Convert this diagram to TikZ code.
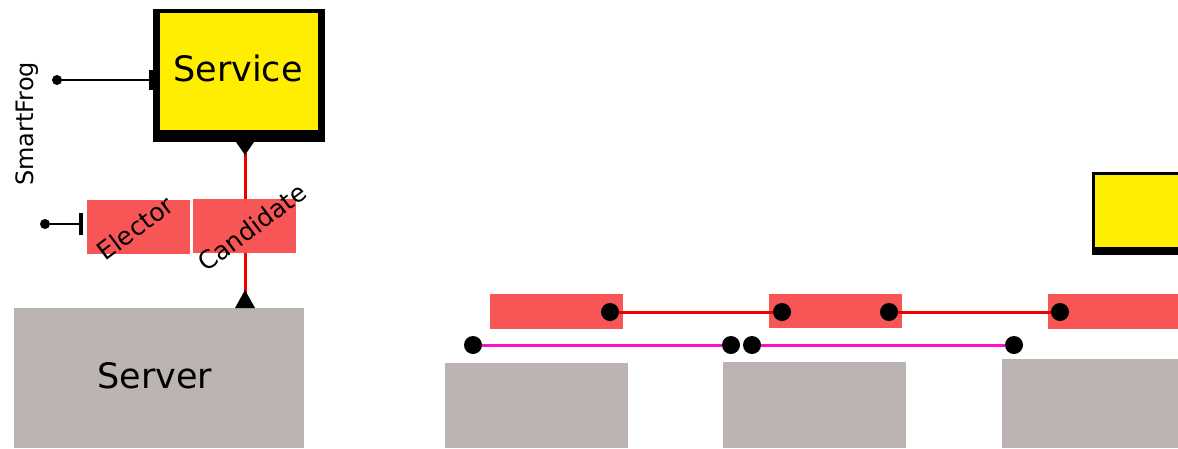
\documentclass[tikz,border=0pt]{standalone}
\usepackage{fontspec}
\setmainfont{DejaVu Sans}
\usetikzlibrary{arrows.meta}
\definecolor{svcyellow}{HTML}{FFEE00}
\definecolor{compred}{HTML}{F85656}
\definecolor{srvgray}{HTML}{BCB4B3}
\definecolor{linkred}{HTML}{EE0000}
\definecolor{linkmag}{HTML}{FF10C8}
\tikzset{
  shadowbox/.style={fill=black, inner sep=0, minimum width=#1},
  yellowbox/.style={fill=svcyellow, inner sep=0},
  redbox/.style={fill=compred, inner sep=0},
  graybox/.style={fill=srvgray, inner sep=0},
  bigdot/.style={circle, fill=black, inner sep=0, minimum size=18pt},
  smalldot/.style={circle, fill=black, inner sep=0, minimum size=10pt},
  redlink/.style={draw=linkred, line width=3pt},
  maglink/.style={draw=linkmag, line width=3pt},
  blacklink/.style={draw=black, line width=2pt},
  rottext/.style={font=\fontsize{25}{27}\selectfont, rotate=37, inner sep=0},
}
\begin{document}
\begin{tikzpicture}[x=1pt,y=-1pt]
\useasboundingbox (0,0) rectangle (1178,448);
\clip (0,0) rectangle (1178,448);
% ---- left part ----
\node[shadowbox=172pt, minimum height=133pt] (svcouter) at (239,75.5) {};
\node[yellowbox, minimum width=158pt, minimum height=117pt] (service) at (239,71.5) {};
\node[font=\fontsize{35}{40}\selectfont] (servicetxt) at (238,68) {Service};
\node[font=\fontsize{24}{26}\selectfont, rotate=90, inner sep=0] (smartfrog) at (27,124) {SmartFrog};
\node[smalldot] (sfdot) at (57,80) {};
\draw[blacklink, -{Bar[width=20pt,line width=4pt]}] (sfdot) -- (sfdot -| svcouter.west);

\node[redbox, minimum width=103pt, minimum height=54pt] (elector) at (138.5,227) {};
\node[smalldot] (edot) at (45,224) {};
\coordinate (etee) at (83,224);
\draw[blacklink, -{Bar[width=22pt,line width=4pt]}] (edot) -- (etee);

\node[redbox, minimum width=103pt, minimum height=54pt] (candidate) at (244.5,226) {};
\node[graybox, minimum width=290pt, minimum height=140pt] (server) at (159,378) {};
\node[font=\fontsize{35}{40}\selectfont] (servertxt) at (155,376) {Server};

\coordinate (jt) at (245,142);
\coordinate (jb) at (245,308);
\draw[redlink] (jt) -- (jt |- candidate.north);
\draw[redlink] (jb |- candidate.south) -- (jb);
\fill (jt) ++(-9,0) -- ++(18,0) -- ++(-9,13) -- cycle;
\fill (jb) ++(-10,0) -- ++(20,0) -- ++(-10,-18) -- cycle;
\node[rottext] (electortxt) at (135,228) {Elector};
\node[rottext] (candtxt) at (252,227) {Candidate};

% ---- right part ----
\node[shadowbox=100pt, minimum height=83pt] (svc2outer) at (1142,213.5) {};
\node[yellowbox, minimum width=100pt, minimum height=72pt] (service2) at (1145,211) {};

\node[redbox, minimum width=133pt, minimum height=35pt] (r1) at (556.5,311.5) {};
\node[redbox, minimum width=133pt, minimum height=34pt] (r2) at (835.5,311) {};
\node[redbox, minimum width=140pt, minimum height=35pt] (r3) at (1118,311.5) {};

\node[graybox, minimum width=183pt, minimum height=85pt] (g1) at (536.5,405.5) {};
\node[graybox, minimum width=183pt, minimum height=86pt] (g2) at (814.5,405) {};
\node[graybox, minimum width=200pt, minimum height=89pt] (g3) at (1102,403.5) {};

\node[bigdot] (r1d) at (610,312) {};
\node[bigdot] (r2a) at (782,312) {};
\node[bigdot] (r2b) at (889,312) {};
\node[bigdot] (r3d) at (1060,312) {};
\draw[redlink] (r1d) -- (r2a);
\draw[redlink] (r2b) -- (r3d);

\node[bigdot] (m1) at (473,345) {};
\node[bigdot] (m2) at (731,345) {};
\node[bigdot] (m3) at (752,345) {};
\node[bigdot] (m4) at (1014,345) {};
\draw[maglink] (m1) -- (m2);
\draw[maglink] (m3) -- (m4);
\end{tikzpicture}
\end{document}
